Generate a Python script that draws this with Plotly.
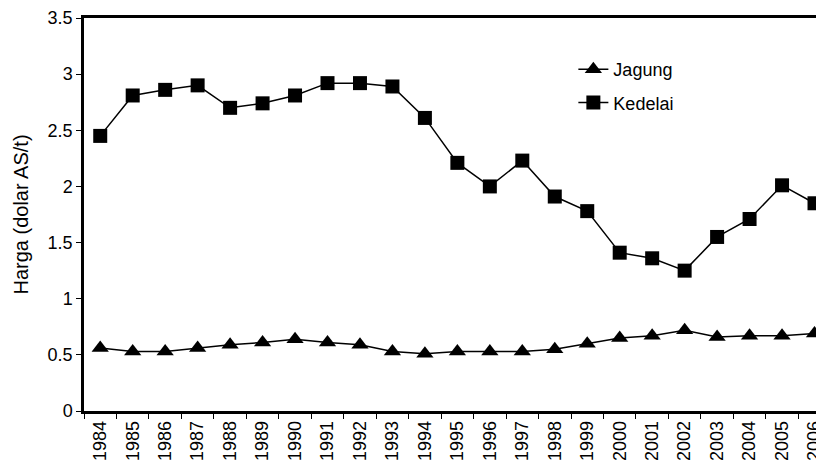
import plotly.graph_objects as go

years = [str(y) for y in range(1984, 2007)]
jagung = [0.56, 0.53, 0.53, 0.56, 0.59, 0.61, 0.64, 0.61, 0.59, 0.53, 0.51, 0.53,
          0.53, 0.53, 0.55, 0.60, 0.65, 0.67, 0.72, 0.66, 0.67, 0.67, 0.69]
kedelai = [2.45, 2.81, 2.86, 2.90, 2.70, 2.74, 2.81, 2.92, 2.92, 2.89, 2.61, 2.21,
           2.00, 2.23, 1.91, 1.78, 1.41, 1.36, 1.25, 1.55, 1.71, 2.01, 1.85]
y_ticks = [0, 0.5, 1, 1.5, 2, 2.5, 3, 3.5]

fig = go.Figure()
fig.add_trace(go.Scatter(x=years, y=jagung, name="Jagung", mode="lines+markers",
                         legendgroup="a",
                         line=dict(color="black", width=1.5),
                         marker=dict(symbol="triangle-up", size=15, color="black")))
fig.add_trace(go.Scatter(x=years, y=kedelai, name="Kedelai", mode="lines+markers",
                         legendgroup="b",
                         line=dict(color="black", width=1.5),
                         marker=dict(symbol="square", size=14, color="black")))

fig.update_layout(
    width=816, height=460,
    margin=dict(l=76, r=0, t=10, b=57),
    paper_bgcolor="white", plot_bgcolor="white",
    font=dict(family="Liberation Sans, Arial, sans-serif", size=17, color="black"),
    showlegend=True,
    legend=dict(x=0.664, y=0.916, xanchor="left", yanchor="top",
                font=dict(size=18), bgcolor="rgba(0,0,0,0)",
                traceorder="grouped", tracegroupgap=7),
    xaxis=dict(type="category", range=[-0.5, 22.2], showline=True, linewidth=2.5,
               linecolor="black", mirror=True, ticks="outside", tickson="boundaries",
               ticklen=5, tickcolor="black", tickangle=-90, showgrid=False,
               tickfont=dict(size=18)),
    yaxis=dict(range=[0, 3.5], tickvals=y_ticks, showline=True, linewidth=2.5,
               linecolor="black", ticks="outside", ticklen=5, tickcolor="black",
               showgrid=False, zeroline=False, tickfont=dict(size=18),
               title=dict(text="Harga (dolar AS/t)", font=dict(size=20), standoff=14)),
)

fig.write_html("out.html")
